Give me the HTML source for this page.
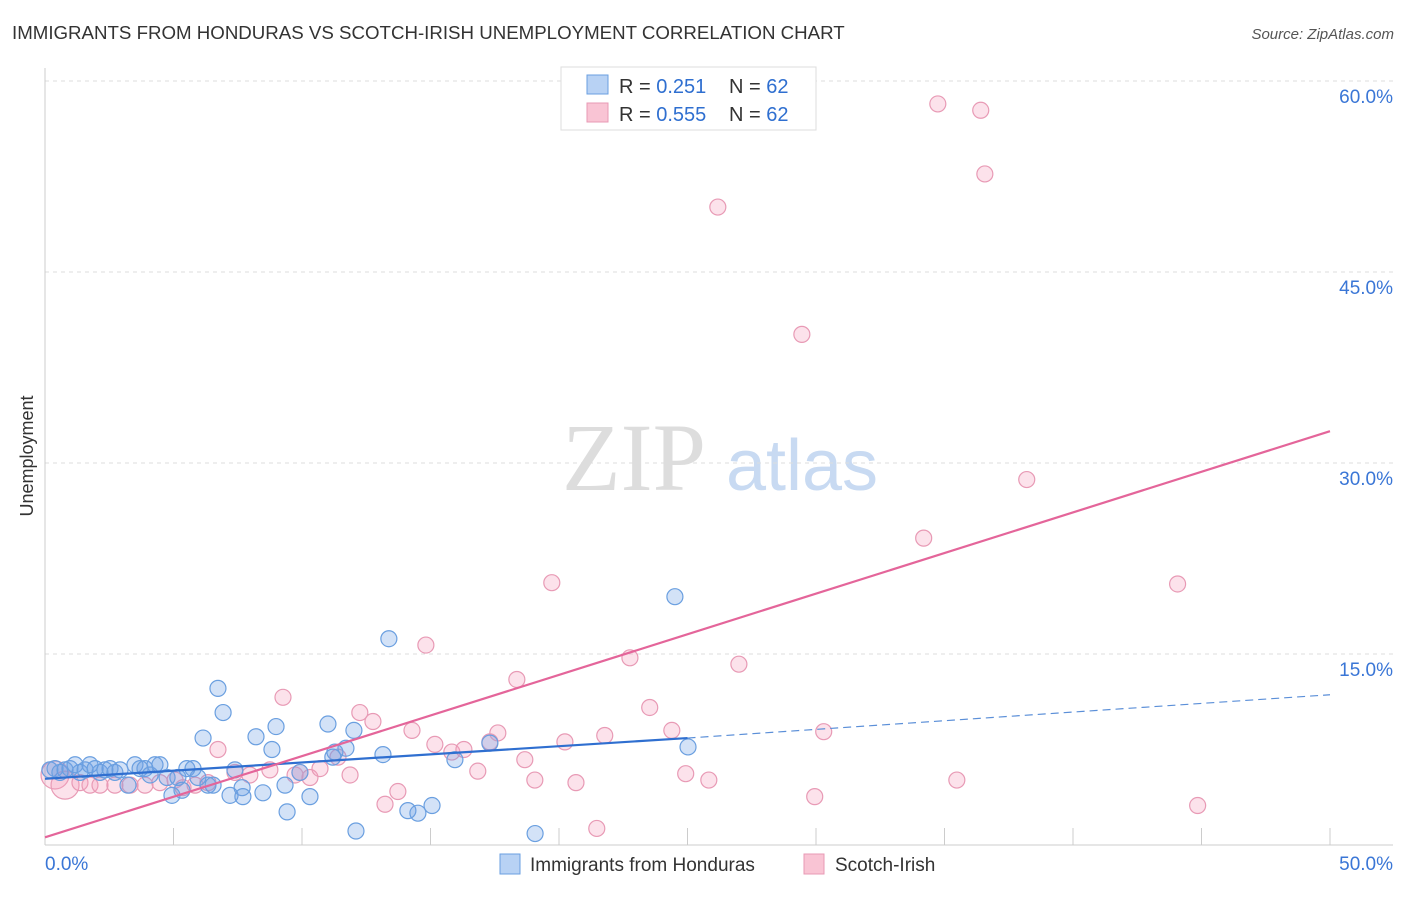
<!DOCTYPE html>
<html><head><meta charset="utf-8"><style>
body{margin:0;background:#fff;font-family:"Liberation Sans",sans-serif;}
</style></head><body>
<svg id="c" width="1406" height="892" xmlns="http://www.w3.org/2000/svg">
<text x="12" y="39" font-size="18.7" fill="#333">IMMIGRANTS FROM HONDURAS VS SCOTCH-IRISH UNEMPLOYMENT CORRELATION CHART</text>
<text x="1394" y="39" font-size="15" fill="#555" font-style="italic" text-anchor="end">Source: ZipAtlas.com</text>
<text transform="translate(33,456) rotate(-90)" font-size="18" fill="#333" text-anchor="middle">Unemployment</text>
<g>
<text x="634" y="490" font-size="96" font-family="Liberation Serif,serif" fill="#ddd" text-anchor="middle">ZIP</text>
<text x="802" y="490" font-size="72" fill="#c8daf2" text-anchor="middle">atlas</text>
</g>
<g id="grid"></g><g id="axes"></g><g id="pts"></g><g id="trend"></g>
<g>
<rect x="561" y="67" width="255" height="63" fill="#fff" stroke="#ddd"/>
<rect x="587" y="75" width="21" height="19" fill="#b8d2f4" stroke="#6a9fe0"/>
<rect x="587" y="103" width="21" height="19" fill="#f9c4d4" stroke="#e89ab5"/>
<text x="619" y="93" font-size="20" fill="#333">R = <tspan fill="#2f6fd0"> 0.251</tspan></text>
<text x="729" y="93" font-size="20" fill="#333">N = <tspan fill="#2f6fd0">62</tspan></text>
<text x="619" y="121" font-size="20" fill="#333">R = <tspan fill="#2f6fd0">0.555</tspan></text>
<text x="729" y="121" font-size="20" fill="#333">N = <tspan fill="#2f6fd0">62</tspan></text>
</g>
<g>
<rect x="500" y="854" width="20" height="20" fill="#b8d2f4" stroke="#6a9fe0"/>
<text x="530" y="871" font-size="19" fill="#333">Immigrants from Honduras</text>
<rect x="804" y="854" width="20" height="20" fill="#f9c4d4" stroke="#e89ab5"/>
<text x="835" y="871" font-size="19" fill="#333">Scotch-Irish</text>
</g>
</svg>
<script>
const blueX=[0.19,0.39,0.58,0.78,0.97,1.17,1.36,1.56,1.75,1.95,2.14,2.33,2.53,2.72,2.92,3.23,3.5,3.7,3.89,4.09,4.28,4.47,4.75,4.94,5.17,5.33,5.52,5.76,5.95,6.15,6.34,6.54,6.73,6.93,7.2,7.39,7.67,7.7,8.21,8.48,8.83,8.99,9.34,9.42,9.92,10.31,11.01,11.28,11.71,12.02,12.1,13.15,13.38,14.12,14.51,15.06,15.95,17.31,19.07,24.51,25.02,11.2];
const blueY=[5.9,6.0,5.7,5.9,6.0,6.3,5.7,5.9,6.3,6.0,5.7,5.9,6.0,5.7,5.9,4.7,6.3,6.0,6.0,5.5,6.3,6.3,5.3,3.9,5.3,4.3,6.0,6.0,5.3,8.4,4.7,4.7,12.3,10.4,3.9,5.9,4.5,3.8,8.5,4.1,7.5,9.3,4.7,2.6,5.7,3.8,9.5,7.3,7.6,9.0,1.1,7.1,16.2,2.7,2.5,3.1,6.7,8.0,0.9,19.5,7.7,6.9];
const pinkX=[0.39,0.78,1.36,1.75,2.14,2.72,3.31,3.89,4.47,5.06,5.37,5.84,6.34,6.73,7.39,7.97,8.75,9.26,9.73,10.31,10.7,11.4,11.87,12.25,12.76,13.23,13.73,14.28,14.82,15.17,15.83,16.3,16.84,17.62,18.36,18.67,19.06,19.72,20.23,20.66,21.47,21.78,22.76,23.53,24.39,24.93,25.83,26.18,27.0,29.45,29.95,30.3,34.19,34.74,35.48,36.41,36.57,38.2,44.07,44.85,17.31,9.92];
const pinkY=[5.5,4.7,4.9,4.7,4.7,4.7,4.7,4.7,4.9,5.1,4.5,4.7,4.9,7.5,5.7,5.5,5.9,11.6,5.5,5.3,6.0,6.9,5.5,10.4,9.7,3.2,4.2,9.0,15.7,7.9,7.3,7.5,5.8,8.8,13.0,6.7,5.1,20.6,8.1,4.9,1.3,8.6,14.7,10.8,9.0,5.6,5.1,50.1,14.2,40.1,3.8,8.9,24.1,58.2,5.1,57.7,52.7,28.7,20.5,3.1,8.1,5.7];
const yTicks=[15,30,45,60];
const yTickLabels=["15.0%","30.0%","45.0%","60.0%"];
const xTicks=[0,5,10,15,20,25,30,35,40,45,50];
const blueTrend=[[0,5.2],[25,8.4],[50,11.8]];
const pinkTrend=[[0,0.6],[50,32.5]];
const NS="http://www.w3.org/2000/svg";
const X=v=>45+v/50*1285, Y=v=>845-v/15*191;
function mk(t,a,p){const e=document.createElementNS(NS,t);for(const k in a)e.setAttribute(k,a[k]);p.appendChild(e);return e;}
const grid=document.getElementById('grid'),axes=document.getElementById('axes'),pts=document.getElementById('pts'),tr=document.getElementById('trend');
yTicks.forEach((v,i)=>{const l=mk('line',{x1:45,x2:1393,y1:Y(v),y2:Y(v),stroke:'#ddd','stroke-dasharray':'4,4'},grid);


const t=mk('text',{x:1393,y:Y(v)+22,'font-size':19,fill:'#3a76d6','text-anchor':'end'},axes);t.textContent=yTickLabels[i];

});
const ax=mk('line',{x1:45,x2:45,y1:68,y2:845,stroke:'#ccc'},axes);


const bx=mk('line',{x1:45,x2:1393,y1:845,y2:845,stroke:'#ccc'},axes);


xTicks.forEach(v=>{const l=mk('line',{x1:X(v),x2:X(v),y1:828,y2:845,stroke:'#ccc'},axes);

});
[[0,"0.0%","start",45],[50,"50.0%","end",1393]].forEach(d=>{const t=mk('text',{x:d[3],y:870,'font-size':19,fill:'#3a76d6','text-anchor':d[2]},axes);t.textContent=d[1];

});
pinkX.forEach((v,i)=>{const c=mk('circle',{cx:X(v),cy:Y(pinkY[i]),r:i<2?14:8,fill:'rgba(244,160,190,0.3)',stroke:'#e89ab5','stroke-width':1.2},pts);

});
blueX.forEach((v,i)=>{const c=mk('circle',{cx:X(v),cy:Y(blueY[i]),r:8,fill:'rgba(110,160,230,0.3)',stroke:'#6a9fe0','stroke-width':1.2},pts);

});
let l=mk('line',{x1:X(blueTrend[0][0]),y1:Y(blueTrend[0][1]),x2:X(blueTrend[1][0]),y2:Y(blueTrend[1][1]),stroke:'#2f6fd0','stroke-width':2.2},tr);


l=mk('line',{x1:X(blueTrend[1][0]),y1:Y(blueTrend[1][1]),x2:X(blueTrend[2][0]),y2:Y(blueTrend[2][1]),stroke:'#5b8fd8','stroke-width':1.2,'stroke-dasharray':'8,5'},tr);


l=mk('line',{x1:X(pinkTrend[0][0]),y1:Y(pinkTrend[0][1]),x2:X(pinkTrend[1][0]),y2:Y(pinkTrend[1][1]),stroke:'#e4659a','stroke-width':2.2},tr);


</script>
</body></html>
